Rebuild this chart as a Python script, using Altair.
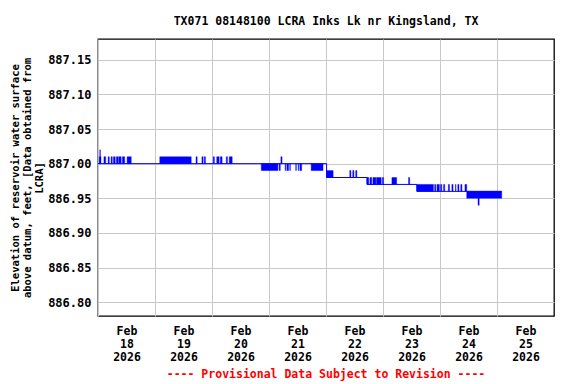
import altair as alt
import pandas as pd

TITLE = "TX071 08148100 LCRA Inks Lk nr Kingsland, TX"
FOOTER = "---- Provisional Data Subject to Revision ----"
Y_TITLE = ["Elevation of reservoir water surface",
           "above datum, feet, [Data obtained from",
           "LCRA]"]
Y_TICKS = [886.80, 886.85, 886.90, 886.95, 887.00, 887.05, 887.10, 887.15]
DAYS = [18, 19, 20, 21, 22, 23, 24, 25]

# main gage level (step changes), hours after 2026-02-18 00:00
level_hours = [0, 96.25, 113.25, 134.25, 170]
level_values = [887.00, 886.98, 886.97, 886.96, 886.96]

# periods where the reading flickered between two levels: (start h, end h)
flick_887_00_01 = [(0.5, 1.25), (2.5, 3.25), (4.25, 4.75), (5.5, 6.0), (6.5, 7.25),
                   (7.75, 8.5), (8.75, 9.75), (10.25, 11.25), (12.25, 14.0),
                   (26.0, 39.25), (41.25, 41.75), (43.75, 44.25), (44.75, 45.25),
                   (48.5, 49.0), (50.0, 51.0), (51.5, 52.25), (54.0, 54.5),
                   (55.25, 56.5), (77.0, 77.5)]
flick_887_00_02 = [(0.75, 1.0)]
flick_886_99_00 = [(68.75, 75.75), (76.25, 76.75), (78.75, 79.0), (79.5, 80.25),
                   (80.75, 81.0), (83.25, 83.5), (84.25, 84.5), (85.0, 85.75),
                   (89.75, 94.75)]
flick_886_98_99 = [(96.25, 99.0), (106.0, 106.5), (107.25, 107.75), (108.5, 109.0)]
flick_886_97_98 = [(113.25, 114.0), (114.5, 115.25), (115.75, 117.0), (117.25, 119.25),
                   (119.75, 120.25), (123.75, 125.75), (130.75, 131.25)]
flick_886_96_97 = [(134.25, 141.25), (141.75, 142.25), (142.75, 143.75), (144.25, 144.75),
                   (145.5, 146.0), (147.5, 148.0), (149.0, 149.5), (150.5, 150.75),
                   (151.5, 152.0), (152.75, 153.25), (154.5, 155.25)]
flick_886_95_96 = [(155.25, 170.0)]
flick_886_94_95 = [(160.0, 160.5)]

T0 = pd.Timestamp("2026-02-18 00:00:00")


def ts(h):
    return (T0 + pd.Timedelta(hours=h)).strftime("%Y-%m-%dT%H:%M:%SZ")


line_df = pd.DataFrame({"t": [ts(h) for h in level_hours], "v": level_values})

rows = []
for periods, lo, hi in [(flick_887_00_01, 887.00, 887.01),
                        (flick_887_00_02, 887.00, 887.02),
                        (flick_886_99_00, 886.99, 887.00),
                        (flick_886_98_99, 886.98, 886.99),
                        (flick_886_97_98, 886.97, 886.98),
                        (flick_886_96_97, 886.96, 886.97),
                        (flick_886_95_96, 886.95, 886.96),
                        (flick_886_94_95, 886.94, 886.95)]:
    for a, b in periods:
        rows.append({"t": ts(a), "t2": ts(b), "lo": lo, "hi": hi})
band_df = pd.DataFrame(rows)

FONT = "DejaVu Sans Mono"
BLUE = "#0000ff"

xdom = [alt.DateTime(year=2026, month=2, date=18, utc=True),
        alt.DateTime(year=2026, month=2, date=26, utc=True)]
xvals = [alt.DateTime(year=2026, month=2, date=d, utc=True) for d in DAYS]

xscale = alt.Scale(type="utc", domain=xdom)
yscale = alt.Scale(domain=[886.78, 887.18], zero=False, nice=False)

xaxis = alt.Axis(values=xvals, title=None, grid=True, gridColor="#c8c8c8",
                 ticks=False, domain=False, labelOffset=28.5,
                 labelExpr="[utcFormat(datum.value, '%b'), utcFormat(datum.value, '%d'), utcFormat(datum.value, '%Y')]",
                 labelFont=FONT, labelFontSize=11.5, labelFontWeight="bold",
                 labelColor="black", labelLineHeight=13, labelPadding=9,
                 labelOverlap=False, labelFlush=False, labelBound=False)
yaxis = alt.Axis(values=Y_TICKS, format=".2f", title=Y_TITLE, grid=True,
                 gridColor="#c8c8c8", ticks=False, domain=False,
                 labelFont=FONT, labelFontSize=12, labelFontWeight="bold",
                 labelColor="black", labelPadding=7,
                 titleFont=FONT, titleFontSize=10.5, titleFontWeight="bold",
                 titleColor="black", titleLineHeight=12, titlePadding=3)

bands = alt.Chart(band_df).mark_rect(color=BLUE, stroke=BLUE, strokeWidth=0.4).encode(
    x=alt.X("t:T", scale=xscale, axis=xaxis),
    x2="t2:T",
    y=alt.Y("lo:Q", scale=yscale, axis=yaxis),
    y2="hi:Q",
)

line = alt.Chart(line_df).mark_line(interpolate="step-after", color=BLUE, strokeWidth=1).encode(
    x=alt.X("t:T", scale=xscale, axis=xaxis),
    y=alt.Y("v:Q", scale=yscale, axis=yaxis),
)

footer = alt.Chart(pd.DataFrame({"label": [FOOTER]})).mark_text(
    font=FONT, fontSize=11.5, fontWeight="bold", color="#ff0000", baseline="middle"
).encode(x=alt.value(228), y=alt.value(336), text="label:N")

chart = alt.layer(bands, line, footer).properties(
    width=456, height=277,
    background="white",
    title=alt.TitleParams(text=TITLE, font=FONT, fontSize=11.5, fontWeight="bold",
                          color="black", anchor="middle", offset=12),
    autosize=alt.AutoSizeParams(type="none"),
    padding={"left": 90, "top": 31, "right": 14, "bottom": 68},
).configure_view(stroke="black", strokeWidth=1.3)

chart.save("out.html", embed_options={"renderer": "svg", "actions": False})
